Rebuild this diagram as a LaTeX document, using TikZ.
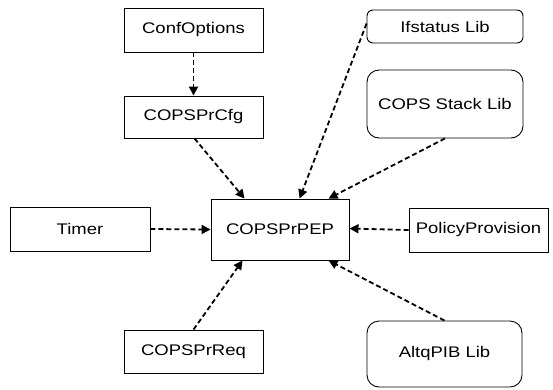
\documentclass[tikz,border=0pt]{standalone}
\usepackage{fontspec}
\setmainfont{Liberation Sans}[FakeStretch=1.2]
\usetikzlibrary{arrows.meta}
\begin{document}
\begin{tikzpicture}[x=1pt,y=-1pt,
  font=\fontsize{15.4}{18}\selectfont,
  module/.style={draw, line width=0.9pt, minimum width=#1, inner sep=0pt},
  modbox/.style={module=139pt, minimum height=44pt},
  libbox/.style={module=156pt, rounded corners=12pt},
  dep/.style={line width=1.8pt, dash pattern=on 5pt off 3pt,
    -{Triangle[length=9pt,width=9pt]}}]
  \useasboundingbox (0,0) rectangle (553,389);

  % configuration chain
  \node[modbox] (conf) at (193.5,30) {ConfOptions};
  \node[modbox, minimum height=42pt] (cfg) at (193.5,117) {COPSPrCfg};

  % central enforcement point
  \node[module=138pt, minimum height=61pt] (pep) at (280,229.5) {COPSPrPEP};

  % neighbours on the left, right and below
  \node[module=140pt, minimum height=44pt] (timer) at (80,229) {Timer};
  \node[modbox] (policy) at (478.5,230) {PolicyProvision};
  \node[modbox, minimum height=43pt] (req) at (193.5,351.5) {COPSPrReq};

  % libraries
  \node[libbox, minimum height=33pt, rounded corners=6pt] (ifs) at (445,26.5) {Ifstatus Lib};
  \node[libbox, minimum height=68pt] (stack) at (445,104) {COPS Stack Lib};
  \node[module=155pt, rounded corners=12pt, minimum height=66pt] (altq) at (444.5,354) {AltqPIB Lib};

  % dependencies
  \draw[dep] (conf.south) -- (cfg.north);
  \draw[dep] ([xshift=1pt]cfg.south) -- ([xshift=34pt]pep.north west);
  \draw[dep] ([yshift=3pt]ifs.west) -- ([xshift=89pt]pep.north west);
  \draw[dep] (stack.south) -- ([xshift=118pt]pep.north west);
  \draw[dep] (timer.east) -- (pep.west);
  \draw[dep] (policy.west) -- ([yshift=1pt]pep.east);
  \draw[dep] (req.north) -- ([xshift=32pt]pep.south west);
  \draw[dep] (altq.north) -- ([xshift=118pt]pep.south west);
\end{tikzpicture}
\end{document}
